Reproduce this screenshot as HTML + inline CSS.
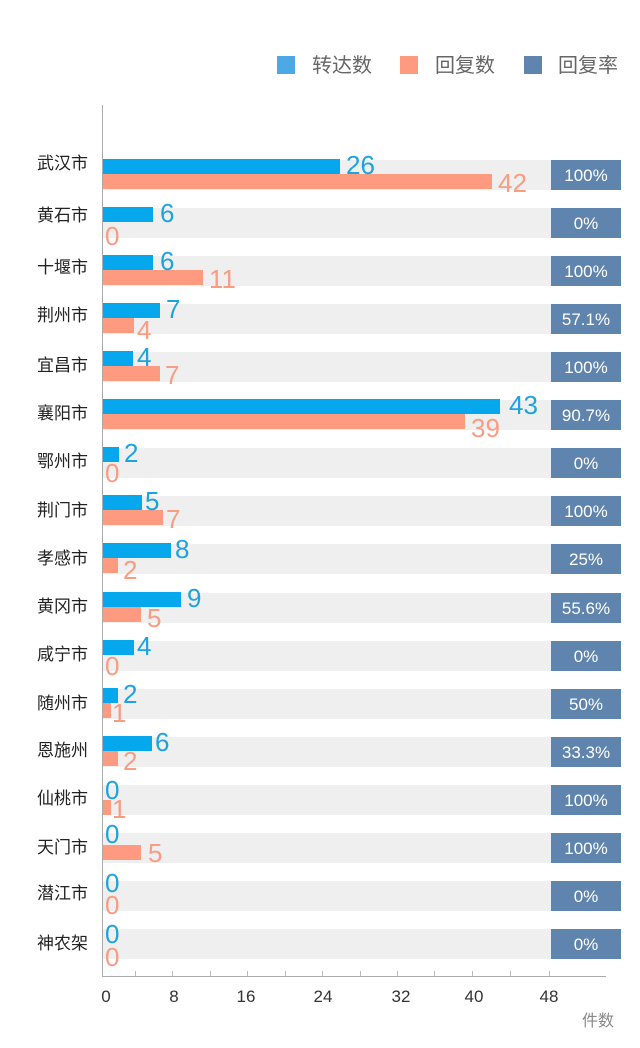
<!DOCTYPE html>
<html><head><meta charset="utf-8"><style>
html,body{margin:0;padding:0;background:#fff;}
svg{display:block;font-family:"Liberation Sans","Noto Sans CJK SC",sans-serif;}
.g{fill:#efefef}.r{fill:#5f84ad}.b{fill:#05a8ec}.s{fill:#fd9a80}
.rt{font-size:17px;fill:#fff;text-anchor:middle}
.lb{font-size:17px;fill:#222;text-anchor:end}
.bt{font-size:26px;fill:#1ca3e0}.st{font-size:26px;fill:#f99c82}
</style></head><body>
<svg width="640" height="1048" viewBox="0 0 640 1048" xmlns="http://www.w3.org/2000/svg">
<rect x="277" y="56" width="18" height="18" fill="#4da9e6"/>
<text x="312" y="72" font-size="20" fill="#666">转达数</text>
<rect x="400" y="56" width="18" height="18" fill="#fd9a80"/>
<text x="435" y="72" font-size="20" fill="#666">回复数</text>
<rect x="524" y="56" width="18" height="18" fill="#5f84ad"/>
<text x="558" y="72" font-size="20" fill="#666">回复率</text>

<g>
<rect class="g" x="103" y="160" width="503" height="30"/>
<rect class="g" x="103" y="208" width="503" height="30"/>
<rect class="g" x="103" y="256" width="503" height="30"/>
<rect class="g" x="103" y="304" width="503" height="30"/>
<rect class="g" x="103" y="352" width="503" height="30"/>
<rect class="g" x="103" y="400" width="503" height="30"/>
<rect class="g" x="103" y="448" width="503" height="30"/>
<rect class="g" x="103" y="496" width="503" height="30"/>
<rect class="g" x="103" y="544" width="503" height="30"/>
<rect class="g" x="103" y="593" width="503" height="30"/>
<rect class="g" x="103" y="641" width="503" height="30"/>
<rect class="g" x="103" y="689" width="503" height="30"/>
<rect class="g" x="103" y="737" width="503" height="30"/>
<rect class="g" x="103" y="785" width="503" height="30"/>
<rect class="g" x="103" y="833" width="503" height="30"/>
<rect class="g" x="103" y="881" width="503" height="30"/>
<rect class="g" x="103" y="929" width="503" height="30"/>
</g>
<g>
<rect class="r" x="551" y="160" width="70" height="30"/><text class="rt" x="586" y="181">100%</text>
<rect class="r" x="551" y="208" width="70" height="30"/><text class="rt" x="586" y="229">0%</text>
<rect class="r" x="551" y="256" width="70" height="30"/><text class="rt" x="586" y="277">100%</text>
<rect class="r" x="551" y="304" width="70" height="30"/><text class="rt" x="586" y="325">57.1%</text>
<rect class="r" x="551" y="352" width="70" height="30"/><text class="rt" x="586" y="373">100%</text>
<rect class="r" x="551" y="400" width="70" height="30"/><text class="rt" x="586" y="421">90.7%</text>
<rect class="r" x="551" y="448" width="70" height="30"/><text class="rt" x="586" y="469">0%</text>
<rect class="r" x="551" y="496" width="70" height="30"/><text class="rt" x="586" y="517">100%</text>
<rect class="r" x="551" y="544" width="70" height="30"/><text class="rt" x="586" y="565">25%</text>
<rect class="r" x="551" y="593" width="70" height="30"/><text class="rt" x="586" y="614">55.6%</text>
<rect class="r" x="551" y="641" width="70" height="30"/><text class="rt" x="586" y="662">0%</text>
<rect class="r" x="551" y="689" width="70" height="30"/><text class="rt" x="586" y="710">50%</text>
<rect class="r" x="551" y="737" width="70" height="30"/><text class="rt" x="586" y="758">33.3%</text>
<rect class="r" x="551" y="785" width="70" height="30"/><text class="rt" x="586" y="806">100%</text>
<rect class="r" x="551" y="833" width="70" height="30"/><text class="rt" x="586" y="854">100%</text>
<rect class="r" x="551" y="881" width="70" height="30"/><text class="rt" x="586" y="902">0%</text>
<rect class="r" x="551" y="929" width="70" height="30"/><text class="rt" x="586" y="950">0%</text>
</g>
<g>
<text class="lb" x="88" y="169">武汉市</text>
<text class="lb" x="88" y="221">黄石市</text>
<text class="lb" x="88" y="273">十堰市</text>
<text class="lb" x="88" y="321">荆州市</text>
<text class="lb" x="88" y="371">宜昌市</text>
<text class="lb" x="88" y="419">襄阳市</text>
<text class="lb" x="88" y="467">鄂州市</text>
<text class="lb" x="88" y="516">荆门市</text>
<text class="lb" x="88" y="564">孝感市</text>
<text class="lb" x="88" y="612">黄冈市</text>
<text class="lb" x="88" y="660">咸宁市</text>
<text class="lb" x="88" y="709">随州市</text>
<text class="lb" x="88" y="756">恩施州</text>
<text class="lb" x="88" y="804">仙桃市</text>
<text class="lb" x="88" y="853">天门市</text>
<text class="lb" x="88" y="899">潜江市</text>
<text class="lb" x="88" y="949">神农架</text>
</g>
<g>
<rect class="b" x="102" y="159" width="238" height="15"/><rect class="s" x="102" y="174" width="390" height="15"/>
<text class="bt" x="346" y="174">26</text><text class="st" x="498" y="192">42</text>
<rect class="b" x="102" y="207" width="51" height="15"/>
<text class="bt" x="160" y="222">6</text><text class="st" x="105" y="245">0</text>
<rect class="b" x="102" y="255" width="51" height="15"/><rect class="s" x="102" y="270" width="101" height="15"/>
<text class="bt" x="160" y="270">6</text><text class="st" x="209" y="288">11</text>
<rect class="b" x="102" y="303" width="58" height="15"/><rect class="s" x="102" y="318" width="32" height="15"/>
<text class="bt" x="166" y="318">7</text><text class="st" x="137" y="339">4</text>
<rect class="b" x="102" y="351" width="31" height="15"/><rect class="s" x="102" y="366" width="58" height="15"/>
<text class="bt" x="137" y="366">4</text><text class="st" x="165" y="384">7</text>
<rect class="b" x="102" y="399" width="398" height="15"/><rect class="s" x="102" y="414" width="363" height="15"/>
<text class="bt" x="509" y="414">43</text><text class="st" x="471" y="437">39</text>
<rect class="b" x="102" y="447" width="17" height="15"/>
<text class="bt" x="124" y="462">2</text><text class="st" x="105" y="482">0</text>
<rect class="b" x="102" y="495" width="40" height="15"/><rect class="s" x="102" y="510" width="61" height="15"/>
<text class="bt" x="145" y="510">5</text><text class="st" x="166" y="528">7</text>
<rect class="b" x="102" y="543" width="69" height="15"/><rect class="s" x="102" y="558" width="16" height="15"/>
<text class="bt" x="175" y="558">8</text><text class="st" x="123" y="579">2</text>
<rect class="b" x="102" y="592" width="79" height="15"/><rect class="s" x="102" y="607" width="39" height="15"/>
<text class="bt" x="187" y="607">9</text><text class="st" x="147" y="627">5</text>
<rect class="b" x="102" y="640" width="32" height="15"/>
<text class="bt" x="137" y="655">4</text><text class="st" x="105" y="675">0</text>
<rect class="b" x="102" y="688" width="16" height="15"/><rect class="s" x="102" y="703" width="9" height="15"/>
<text class="bt" x="123" y="703">2</text><text class="st" x="112" y="722">1</text>
<rect class="b" x="102" y="736" width="50" height="15"/><rect class="s" x="102" y="751" width="16" height="15"/>
<text class="bt" x="155" y="751">6</text><text class="st" x="123" y="770">2</text>
<rect class="s" x="102" y="800" width="9" height="15"/>
<text class="bt" x="105" y="799">0</text><text class="st" x="112" y="818">1</text>
<rect class="s" x="102" y="845" width="39" height="15"/>
<text class="bt" x="105" y="843">0</text><text class="st" x="148" y="862">5</text>
<text class="bt" x="105" y="892">0</text><text class="st" x="105" y="914">0</text>
<text class="bt" x="105" y="943">0</text><text class="st" x="105" y="966">0</text>
</g>
<line x1="102.5" y1="105" x2="102.5" y2="977" stroke="#aaa" stroke-width="1"/>
<line x1="102" y1="976.5" x2="606" y2="976.5" stroke="#aaa" stroke-width="1"/>
<g stroke="#bbb" stroke-width="1">
<line x1="135.5" y1="971" x2="135.5" y2="976"/><line x1="172.5" y1="971" x2="172.5" y2="976"/><line x1="210.5" y1="971" x2="210.5" y2="976"/><line x1="247.5" y1="971" x2="247.5" y2="976"/><line x1="285.5" y1="971" x2="285.5" y2="976"/><line x1="322.5" y1="971" x2="322.5" y2="976"/><line x1="360.5" y1="971" x2="360.5" y2="976"/><line x1="397.5" y1="971" x2="397.5" y2="976"/><line x1="434.5" y1="971" x2="434.5" y2="976"/><line x1="472.5" y1="971" x2="472.5" y2="976"/><line x1="510.5" y1="971" x2="510.5" y2="976"/><line x1="549.5" y1="971" x2="549.5" y2="976"/>
</g>
<g font-size="17" fill="#333" text-anchor="middle">
<text x="106" y="1002">0</text><text x="174" y="1002">8</text><text x="246" y="1002">16</text><text x="323" y="1002">24</text><text x="401" y="1002">32</text><text x="474" y="1002">40</text><text x="549" y="1002">48</text>
</g>
<text x="614" y="1026" font-size="16" fill="#888" text-anchor="end">件数</text>
</svg>
</body></html>
